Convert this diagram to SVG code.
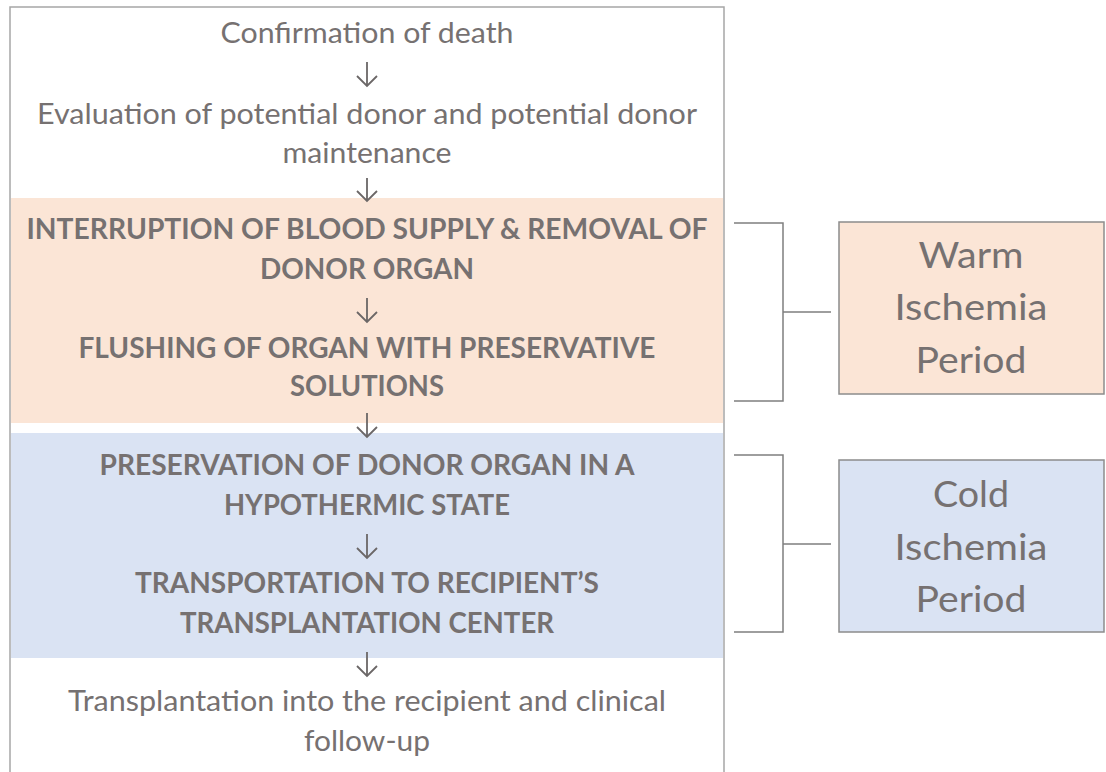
<svg xmlns="http://www.w3.org/2000/svg" width="1106" height="772" viewBox="0 0 1106 772">
<style>
.t{font-family:Lato,"Liberation Sans",sans-serif;font-size:28px;fill:#767171;text-anchor:middle}
.b{font-weight:bold}
.p{font-family:Lato,"Liberation Sans",sans-serif;font-size:37px;fill:#767171;text-anchor:middle}
.ln{stroke:#7f7f7f;stroke-width:1.5;fill:none}
.ar{stroke:#6b6767;stroke-width:1.8;fill:none}
</style>
<rect x="0" y="0" width="1106" height="772" fill="#ffffff"/>
<g id="panel">
<rect x="10" y="7" width="714" height="780" fill="#ffffff" stroke="#a6a6a6" stroke-width="1.5"/>
<rect x="11" y="198" width="712" height="225" fill="#fbe5d6"/>
<rect x="11" y="433" width="712" height="225" fill="#dae3f3"/>
</g>
<g id="n1"><text class="t" x="367" y="43" textLength="293" lengthAdjust="spacingAndGlyphs">Confirmation of death</text></g>
<g id="n2"><text class="t" x="367" y="124" textLength="660" lengthAdjust="spacingAndGlyphs">Evaluation of potential donor and potential donor</text><text class="t" x="367" y="163" textLength="169" lengthAdjust="spacingAndGlyphs">maintenance</text></g>
<g id="n3"><text class="t b" x="367" y="239" textLength="681" lengthAdjust="spacingAndGlyphs">INTERRUPTION OF BLOOD SUPPLY &amp; REMOVAL OF</text><text class="t b" x="367" y="279" textLength="214" lengthAdjust="spacingAndGlyphs">DONOR ORGAN</text></g>
<g id="n4"><text class="t b" x="367" y="358" textLength="577" lengthAdjust="spacingAndGlyphs">FLUSHING OF ORGAN WITH PRESERVATIVE</text><text class="t b" x="367" y="396" textLength="154" lengthAdjust="spacingAndGlyphs">SOLUTIONS</text></g>
<g id="n5"><text class="t b" x="367" y="475" textLength="535" lengthAdjust="spacingAndGlyphs">PRESERVATION OF DONOR ORGAN IN A</text><text class="t b" x="367" y="515" textLength="286" lengthAdjust="spacingAndGlyphs">HYPOTHERMIC STATE</text></g>
<g id="n6"><text class="t b" x="367" y="593" textLength="464" lengthAdjust="spacingAndGlyphs">TRANSPORTATION TO RECIPIENT’S</text><text class="t b" x="367" y="633" textLength="374" lengthAdjust="spacingAndGlyphs">TRANSPLANTATION CENTER</text></g>
<g id="n7"><text class="t" x="367" y="711" textLength="598" lengthAdjust="spacingAndGlyphs">Transplantation into the recipient and clinical</text><text class="t" x="367" y="751" textLength="126" lengthAdjust="spacingAndGlyphs">follow-up</text></g>
<g id="warm"><rect x="839" y="222" width="265" height="172" fill="#fbe5d6" stroke="#8c8c8c" stroke-width="1.5"/><text class="p" x="971" y="268" textLength="105" lengthAdjust="spacingAndGlyphs">Warm</text><text class="p" x="971" y="320" textLength="153" lengthAdjust="spacingAndGlyphs">Ischemia</text><text class="p" x="971" y="373" textLength="111" lengthAdjust="spacingAndGlyphs">Period</text></g>
<g id="cold"><rect x="839" y="460" width="265" height="172" fill="#dae3f3" stroke="#8c8c8c" stroke-width="1.5"/><text class="p" x="971" y="507" textLength="76" lengthAdjust="spacingAndGlyphs">Cold</text><text class="p" x="971" y="560" textLength="153" lengthAdjust="spacingAndGlyphs">Ischemia</text><text class="p" x="971" y="612" textLength="111" lengthAdjust="spacingAndGlyphs">Period</text></g>
<g id="connectors">
<path class="ar" d="M367 62V86M357 76L367 86L377 76"/>
<path class="ar" d="M367 178V201M357 191L367 201L377 191"/>
<path class="ar" d="M367 298V322M357 312L367 322L377 312"/>
<path class="ar" d="M367 413V437M357 427L367 437L377 427"/>
<path class="ar" d="M367 534V558M357 548L367 558L377 548"/>
<path class="ar" d="M367 652V676M357 666L367 676L377 666"/>
<path class="ln" d="M734 223H783V401H734M783 312H831"/>
<path class="ln" d="M734 455H783V632H734M783 544H831"/>
</g>
</svg>
